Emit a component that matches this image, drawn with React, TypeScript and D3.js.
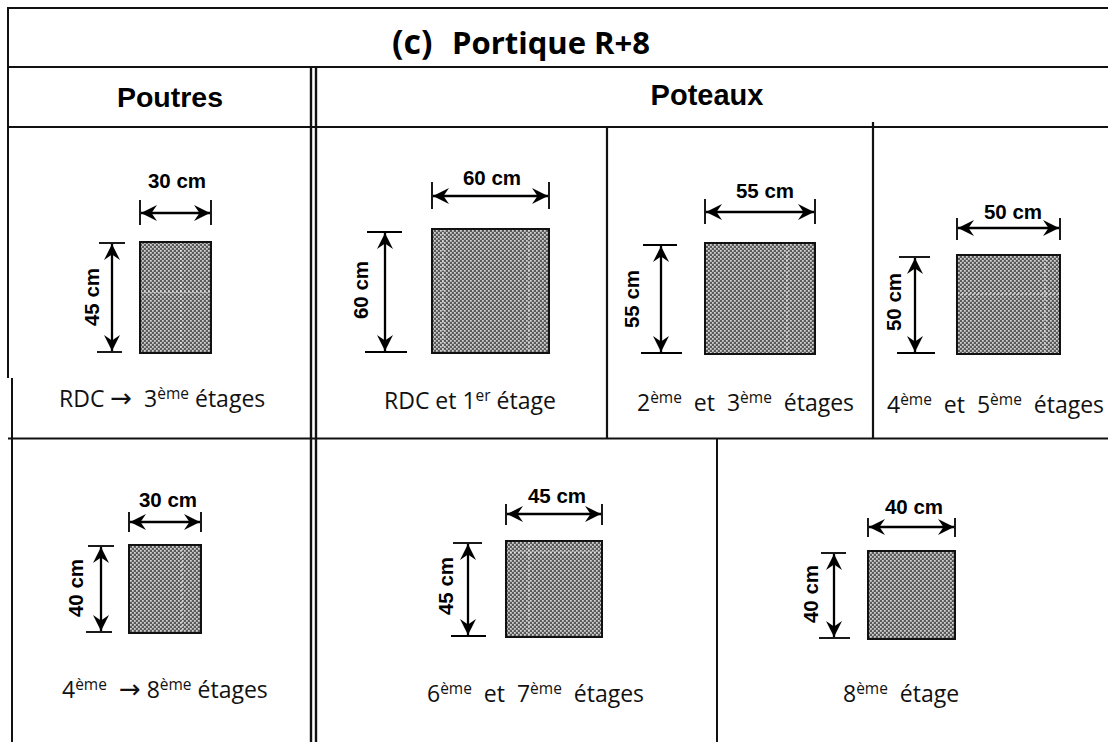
import React from "react";
import * as d3 from "d3";

const titleParts = ["(c)", "Portique R+8"];
const headers = ["Poutres", "Poteaux"];
const widthsCm = [30, 60, 55, 50, 30, 45, 40];
const heightsCm = [45, 60, 55, 50, 40, 45, 40];
const captions: [string, boolean][][] = [
  [["RDC ", false], ["→", false], ["  3", false], ["ème", true], [" étages", false]],
  [["RDC et 1", false], ["er", true], [" étage", false]],
  [["2", false], ["ème", true], ["  et  3", false], ["ème", true], ["  étages", false]],
  [["4", false], ["ème", true], ["  et  5", false], ["ème", true], ["  étages", false]],
  [["4", false], ["ème", true], ["  ", false], ["→", false], [" 8", false], ["ème", true], [" étages", false]],
  [["6", false], ["ème", true], ["  et  7", false], ["ème", true], ["  étages", false]],
  [["8", false], ["ème", true], ["  étage", false]],
];

// drawing layout of each section (pixels)
const layout = [
  { x: 140, y: 242, w: 71, h: 111, ay: 213, tw: [200, 225], lw: [177, 188], ax: 112, th1: [99, 125, 243], th2: [97, 122, 352], lh: [99, 297], cap: [59, 407], sv: [181], sh: [292] },
  { x: 432, y: 229, w: 117, h: 124, ay: 196, tw: [182, 209], lw: [492, 185], ax: 385, th1: [367, 402, 232], th2: [365, 407, 352], lh: [368, 290], cap: [384, 409], sv: [443, 529], sh: [] },
  { x: 705, y: 243, w: 110, h: 111, ay: 212, tw: [199, 224], lw: [765, 198], ax: 661, th1: [643, 677, 245], th2: [641, 682, 353], lh: [639, 299], cap: [637, 411], sv: [787], sh: [] },
  { x: 957, y: 255, w: 103, h: 99, ay: 228, tw: [218, 240], lw: [1013, 219], ax: 915, th1: [899, 930, 257], th2: [897, 935, 353], lh: [901, 302], cap: [887, 413], sv: [1045], sh: [294] },
  { x: 129, y: 545, w: 72, h: 88, ay: 522, tw: [512, 532], lw: [168, 507], ax: 101, th1: [88, 114, 546], th2: [86, 112, 632], lh: [83, 588], cap: [62, 698], sv: [182], sh: [] },
  { x: 506, y: 541, w: 96, h: 96, ay: 514, tw: [504, 525], lw: [557, 503], ax: 468, th1: [453, 482, 543], th2: [451, 486, 636], lh: [453, 586], cap: [427, 702], sv: [529], sh: [552] },
  { x: 868, y: 551, w: 87, h: 88, ay: 527, tw: [518, 537], lw: [914, 514], ax: 834, th1: [821, 846, 553], th2: [819, 850, 638], lh: [818, 594], cap: [843, 702], sv: [], sh: [] },
];

const rules: [number, number, number, number, number][] = [
  [7, 8, 1108, 8, 2],
  [8, 8, 8, 378, 2],
  [12, 378, 12, 742, 2],
  [8, 67, 1108, 67, 2],
  [8, 127, 1108, 127, 2],
  [8, 438.5, 1108, 438.5, 2],
  [311, 68, 311, 742, 2.4],
  [316, 68, 316, 742, 2.4],
  [607, 127, 607, 438, 2.2],
  [873, 122, 873, 438, 2.2],
  [717, 438, 717, 742, 2],
];

const ARIAL = "'Liberation Sans', Arial, sans-serif";
const BODY = "'Open Sans', sans-serif";
const CAP = 23;

const head = "M0,0 L-16,-8 L-10.5,0 L-16,8 Z";
const Arrow = ({ x1, y1, x2, y2 }: { x1: number; y1: number; x2: number; y2: number }) => {
  const a = (Math.atan2(y2 - y1, x2 - x1) * 180) / Math.PI;
  return (
    <g>
      <line x1={x1} y1={y1} x2={x2} y2={y2} stroke="#000" strokeWidth={2.3} />
      <path d={head} transform={`translate(${x2},${y2}) rotate(${a})`} fill="#000" />
      <path d={head} transform={`translate(${x1},${y1}) rotate(${a + 180})`} fill="#000" />
    </g>
  );
};

export default function App() {
  return (
    <svg
      width={1108}
      height={742}
      viewBox="0 0 1108 742"
      style={{ position: "absolute", left: 0, top: 0, background: "#fff" }}
    >
      <defs>
        <pattern id="hatch" width={4} height={4} patternUnits="userSpaceOnUse">
          <rect width={4} height={4} fill="#6c6c6c" />
          <rect x={0} y={0} width={2} height={2} fill="#5a5a5a" />
          <rect x={2} y={2} width={2} height={2} fill="#5a5a5a" />
          <rect x={0} y={2} width={1.7} height={1.7} fill="#d4d4d4" />
          <rect x={2} y={0} width={1.7} height={1.7} fill="#d4d4d4" />
        </pattern>
      </defs>

      {rules.map(([x1, y1, x2, y2, sw], i) => (
        <line key={i} x1={x1} y1={y1} x2={x2} y2={y2} stroke="#111" strokeWidth={sw} />
      ))}

      <text x={392} y={54} fontFamily={BODY} fontWeight={700} fontSize={34} fill="#000">{titleParts[0]}</text>
      <text x={452} y={54} fontFamily={BODY} fontWeight={700} fontSize={31} fill="#000">{titleParts[1]}</text>

      <text x={170} y={107} textAnchor="middle" fontFamily={ARIAL} fontWeight={700} fontSize={28.5}>{headers[0]}</text>
      <text x={707} y={105} textAnchor="middle" fontFamily={ARIAL} fontWeight={700} fontSize={29}>{headers[1]}</text>

      {layout.map((p, i) => {
        const sx = d3.scaleLinear().domain([0, widthsCm[i]]).range([p.x, p.x + p.w]);
        const sy = d3.scaleLinear().domain([0, heightsCm[i]]).range([p.y + p.h, p.y]);
        const x0 = sx(0), x1 = sx(widthsCm[i]);
        const y0 = sy(0), y1 = sy(heightsCm[i]);
        return (
          <g key={i}>
            <rect x={x0} y={y1} width={x1 - x0} height={y0 - y1} fill="url(#hatch)" />
            {p.sv.map((v) => (
              <line key={v} x1={v} x2={v} y1={y1} y2={y0} stroke="#fff" strokeWidth={1} strokeDasharray="2 2" opacity={0.8} />
            ))}
            {p.sh.map((v) => (
              <line key={v} x1={x0} x2={x1} y1={v} y2={v} stroke="#fff" strokeWidth={1} strokeDasharray="2 2" opacity={0.8} />
            ))}
            <rect x={x0} y={y1} width={x1 - x0} height={y0 - y1} fill="none" stroke="#111" strokeWidth={2} />
            <line x1={x0} x2={x0} y1={p.tw[0]} y2={p.tw[1]} stroke="#000" strokeWidth={1.8} />
            <line x1={x1} x2={x1} y1={p.tw[0]} y2={p.tw[1]} stroke="#000" strokeWidth={1.8} />
            <Arrow x1={x0 + 1} y1={p.ay} x2={x1 - 1} y2={p.ay} />
            <text x={p.lw[0]} y={p.lw[1]} textAnchor="middle" fontFamily={ARIAL} fontWeight={700} fontSize={20.5}>
              {`${widthsCm[i]} cm`}
            </text>
            <line x1={p.th1[0]} x2={p.th1[1]} y1={p.th1[2]} y2={p.th1[2]} stroke="#000" strokeWidth={1.8} />
            <line x1={p.th2[0]} x2={p.th2[1]} y1={p.th2[2]} y2={p.th2[2]} stroke="#000" strokeWidth={1.8} />
            <Arrow x1={p.ax} y1={p.th1[2] + 1} x2={p.ax} y2={p.th2[2] - 1} />
            <text
              transform={`translate(${p.lh[0]},${p.lh[1]}) rotate(-90)`}
              textAnchor="middle"
              fontFamily={ARIAL}
              fontWeight={700}
              fontSize={20.5}
            >
              {`${heightsCm[i]} cm`}
            </text>
            <text x={p.cap[0]} y={p.cap[1]} fontFamily={BODY} fontSize={CAP} style={{ whiteSpace: "pre" }} fill="#111">
              {captions[i].map(([t, sup], j) => {
                const prevSup = j > 0 && captions[i][j - 1][1];
                return (
                  <tspan
                    key={j}
                    dy={sup ? -8.5 : prevSup ? 8.5 : 0}
                    fontSize={sup ? 15.5 : t === "→" ? 26 : CAP}
                    fontFamily={t === "→" ? "'DejaVu Sans', sans-serif" : BODY}
                  >
                    {t}
                  </tspan>
                );
              })}
            </text>
          </g>
        );
      })}
    </svg>
  );
}
